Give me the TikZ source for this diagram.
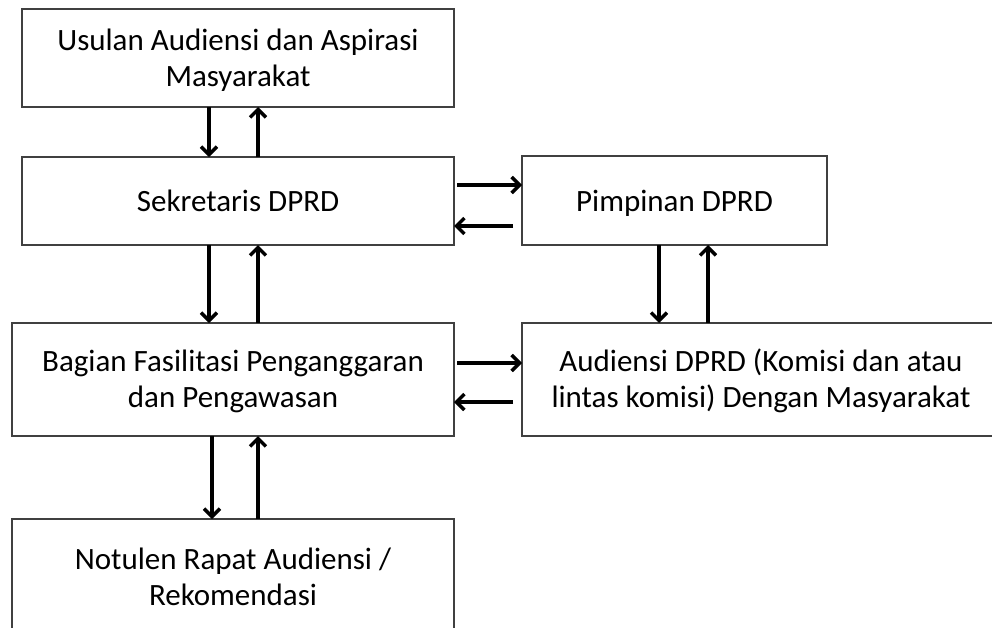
\documentclass[tikz,border=0pt]{standalone}
\usepackage{fontspec}
\setmainfont{Carlito}
\usetikzlibrary{arrows.meta}
\newcommand{\flowstrut}{\rule[-5pt]{0pt}{31pt}}
\begin{document}
\begin{tikzpicture}[x=1pt,y=-1pt,inner sep=0pt,outer sep=0pt,
flowblock/.style={draw=black!75,rectangle,line width=1.7pt,align=center,font=\fontsize{31}{36}\selectfont},
flow/.style={line width=3.5pt,-{Straight Barb[length=8pt,width=16pt]}}]
\clip (0,0) rectangle (992,627);
\draw (238,58) node[flowblock,minimum width=432,minimum height=98] (usulan) {\flowstrut Usulan Audiensi dan Aspirasi\\\flowstrut Masyarakat};
\draw (238,201) node[flowblock,minimum width=432,minimum height=88] (sekretaris) {\flowstrut Sekretaris DPRD};
\draw (674.5,200.5) node[flowblock,minimum width=305,minimum height=89] (pimpinan) {\flowstrut Pimpinan DPRD};
\draw (233,379.5) node[flowblock,minimum width=442,minimum height=113] (bagian) {\flowstrut Bagian Fasilitasi Penganggaran\\\flowstrut dan Pengawasan};
\draw (761,379.5) node[flowblock,minimum width=478,minimum height=113] (audiensi) {\flowstrut Audiensi DPRD (Komisi dan atau\\\flowstrut lintas komisi) Dengan Masyarakat};
\draw (233,577) node[flowblock,minimum width=442,minimum height=116] (notulen) {\flowstrut Notulen Rapat Audiensi /\\\flowstrut Rekomendasi};
% turun naik
\draw[flow] ([xshift=-29pt]usulan.south) -- ([xshift=-29pt]sekretaris.north);
\draw[flow] ([xshift=20pt]sekretaris.north) -- ([xshift=20pt]usulan.south);
\draw[flow] ([xshift=-29pt]sekretaris.south) -- ([xshift=-29pt]sekretaris.south |- bagian.north);
\draw[flow] ([xshift=20pt]sekretaris.south |- bagian.north) -- ([xshift=20pt]sekretaris.south);
\draw[flow] ([xshift=-21pt]bagian.south) -- ([xshift=-21pt]notulen.north);
\draw[flow] ([xshift=25pt]notulen.north) -- ([xshift=25pt]bagian.south);
\draw[flow] ([xshift=-15.5pt]pimpinan.south) -- ([xshift=-15.5pt]pimpinan.south |- audiensi.north);
\draw[flow] ([xshift=33.5pt]pimpinan.south |- audiensi.north) -- ([xshift=33.5pt]pimpinan.south);
% kanan kiri
\draw[flow] ([shift={(3pt,16pt)}]sekretaris.east) -- ([yshift=16pt]sekretaris.east -| pimpinan.west);
\draw[flow] ([shift={(-9pt,-25pt)}]pimpinan.west |- sekretaris.east) -- ([yshift=-25pt]sekretaris.east);
\draw[flow] ([shift={(3pt,16.5pt)}]bagian.east) -- ([yshift=16.5pt]bagian.east -| audiensi.west);
\draw[flow] ([shift={(-9pt,-22.5pt)}]audiensi.west |- bagian.east) -- ([yshift=-22.5pt]bagian.east);
\end{tikzpicture}
\end{document}
